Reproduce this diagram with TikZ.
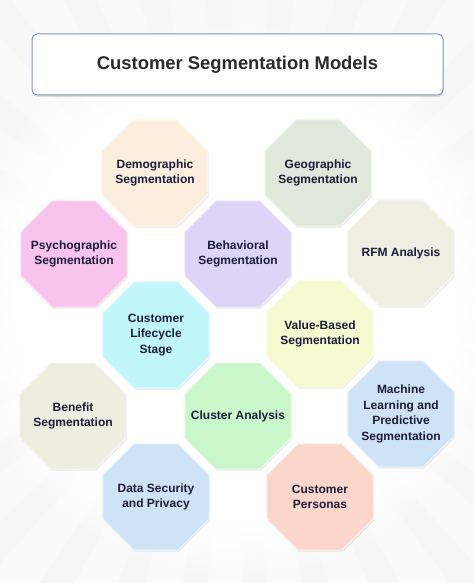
\documentclass[tikz,border=0pt]{standalone}
\usepackage{fontspec}
\setmainfont{Liberation Sans}
\usetikzlibrary{shapes.geometric,shadows,fadings}

\definecolor{titleink}{HTML}{2B2B2B}
\definecolor{segink}{HTML}{1D1C3B}
\definecolor{titleedge}{HTML}{8497B0}
\definecolor{demofill}{HTML}{FBEEDD}
\definecolor{geofill}{HTML}{DFE8DB}
\definecolor{psychofill}{HTML}{F8C4EE}
\definecolor{behavfill}{HTML}{DCD5F7}
\definecolor{rfmfill}{HTML}{EEEEE3}
\definecolor{lifefill}{HTML}{C0F5FA}
\definecolor{valuefill}{HTML}{F6FAD0}
\definecolor{benefitfill}{HTML}{EDEDE0}
\definecolor{clusterfill}{HTML}{C9F7CB}
\definecolor{mlfill}{HTML}{CFE3F6}
\definecolor{datafill}{HTML}{CFE3F7}
\definecolor{personafill}{HTML}{FBD6CB}

\tikzset{
  segbox/.style={regular polygon, regular polygon sides=8, minimum size=115pt,
    inner sep=-40pt, fill=#1, draw=white!60!#1, line width=1.2pt,
    drop shadow={opacity=0.16, shadow xshift=0.8pt, shadow yshift=-1.6pt},
    text=segink, align=center, font=\fontsize{12}{15.7}\selectfont\bfseries},
  ray/.style={fill=black!3}
}

\begin{document}
\begin{tikzpicture}[x=1pt, y=-1pt]
  \useasboundingbox (0,0) rectangle (474,583);

  % background rays
  \begin{scope}
    \clip (0,0) rectangle (474,583);
    \fill[white!98!black] (0,0) rectangle (474,583);
    \foreach \a in {0,12,...,348}
      \fill[ray] (237,300) -- +(\a:560) -- +(\a+5:560) -- cycle;
    \fill[white, path fading=circle with fuzzy edge 20 percent] (237,300) circle (280);
  \end{scope}

  % title
  \node[draw=titleedge, line width=1pt, fill=white, rounded corners=5pt,
    minimum width=411pt, minimum height=61pt,
    drop shadow={opacity=0.25, shadow xshift=0.5pt, shadow yshift=-2pt},
    text=titleink, font=\fontsize{18.4}{22}\selectfont\bfseries]
    (title) at (237.5,64.5) {Customer Segmentation Models};

  % octagons
  \node[segbox=demofill] (demo) at (155,173) {Demographic\\Segmentation};
  \node[segbox=geofill] (geo) at (318,173) {Geographic\\Segmentation};
  \node[segbox=psychofill] (psycho) at (74,254) {Psychographic\\Segmentation};
  \node[segbox=behavfill] (behav) at (238,254) {Behavioral\\Segmentation};
  \node[segbox=rfmfill] (rfm) at (401,253) {RFM Analysis};
  \node[segbox=lifefill] (life) at (156,335) {Customer\\Lifecycle\\Stage};
  \node[segbox=valuefill] (value) at (320,334) {Value-Based\\Segmentation};
  \node[segbox=benefitfill] (benefit) at (73,416) {Benefit\\Segmentation};
  \node[segbox=clusterfill] (cluster) at (238,416) {Cluster Analysis};
  \node[segbox=mlfill] (ml) at (401,414) {Machine\\Learning and\\Predictive\\Segmentation};
  \node[segbox=datafill] (data) at (156,497) {Data Security\\and Privacy};
  \node[segbox=personafill] (persona) at (320,497) {Customer\\Personas};
\end{tikzpicture}
\end{document}
